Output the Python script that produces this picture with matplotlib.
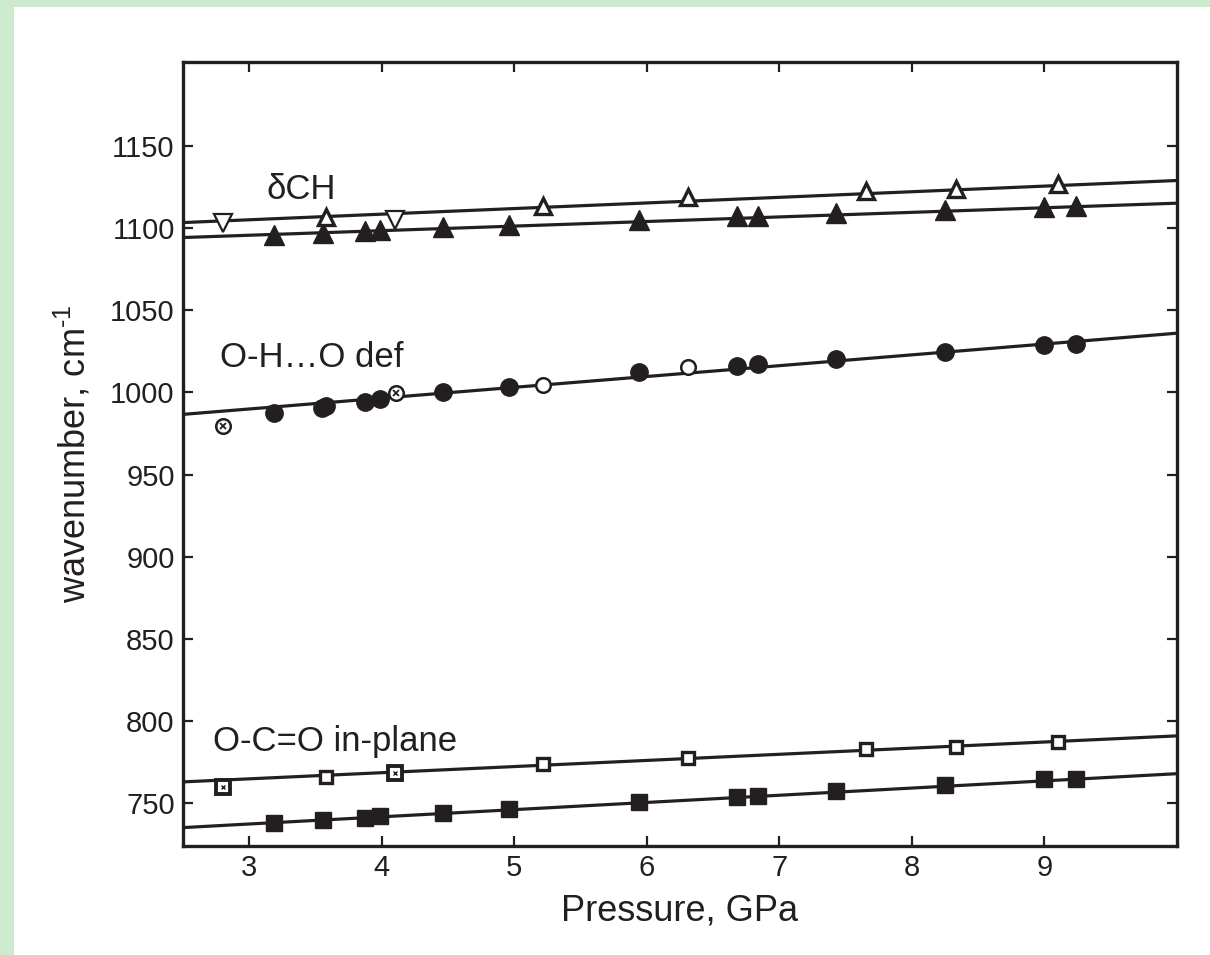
import matplotlib
matplotlib.use("Agg")
import matplotlib.pyplot as plt
from matplotlib.patches import Rectangle

INK = "#231f20"

# delta CH band
ch_open_up_x = [3.58, 5.22, 6.31, 7.65, 8.33, 9.10]
ch_open_up_y = [1106.6, 1113.6, 1118.8, 1122.8, 1123.6, 1126.7]
ch_open_down_x = [2.80, 4.10]
ch_open_down_y = [1103.0, 1105.0]
ch_filled_x = [3.19, 3.56, 3.87, 3.99, 4.46, 4.96, 5.94, 6.68, 6.84, 7.43, 8.25, 9.00, 9.24]
ch_filled_y = [1095.8, 1096.8, 1098.4, 1098.8, 1100.5, 1101.9, 1105.0, 1107.4, 1107.4,
               1109.4, 1111.0, 1113.0, 1113.5]

# O-H...O deformation
oh_filled_x = [3.19, 3.55, 3.58, 3.87, 3.99, 4.46, 4.96, 5.94, 6.68, 6.84, 7.43, 8.25, 9.00, 9.24]
oh_filled_y = [987.2, 990.6, 991.6, 994.3, 995.7, 1000.0, 1003.4, 1012.5, 1016.0, 1017.0,
               1020.0, 1024.5, 1029.0, 1029.5]
oh_open_x = [5.22, 6.31]
oh_open_y = [1004.4, 1015.5]
oh_cross_x = [2.80, 4.11]
oh_cross_y = [979.7, 999.8]

# O-C=O in-plane
oco_filled_x = [3.19, 3.56, 3.87, 3.99, 4.46, 4.96, 5.94, 6.68, 6.84, 7.43, 8.25, 9.00, 9.24]
oco_filled_y = [738.0, 739.6, 741.0, 742.0, 744.0, 746.3, 750.8, 754.0, 754.3, 757.5,
                761.0, 764.5, 765.0]
oco_open_x = [3.58, 5.22, 6.31, 7.65, 8.33, 9.10]
oco_open_y = [766.2, 773.6, 777.5, 783.0, 784.5, 787.0]
oco_cross_x = [2.80, 4.10]
oco_cross_y = [760.2, 768.2]

# linear fits, evaluated at the ends of the pressure range
fit_x = [2.5, 10.0]
fit_ch_open = [1103.3, 1128.9]
fit_ch_filled = [1094.2, 1115.1]
fit_oh = [986.6, 1036.0]
fit_oco_open = [763.0, 791.0]
fit_oco_filled = [735.2, 768.0]

x_ticks = [3, 4, 5, 6, 7, 8, 9]
y_ticks = [750, 800, 850, 900, 950, 1000, 1050, 1100, 1150]

plt.rcParams["font.family"] = ["Liberation Sans", "DejaVu Sans"]
plt.rcParams["mathtext.fontset"] = "custom"
plt.rcParams["mathtext.rm"] = "Liberation Sans"
plt.rcParams["mathtext.it"] = "Liberation Sans"

fig = plt.figure(figsize=(12.10, 9.55), dpi=100, facecolor="white")
# green frame strips on top and left
fig.patches.append(Rectangle((0, 1 - 7 / 955), 1, 7 / 955, transform=fig.transFigure,
                             facecolor="#cdeace", edgecolor="none", zorder=0))
fig.patches.append(Rectangle((0, 0), 14 / 1210, 1, transform=fig.transFigure,
                             facecolor="#cdeace", edgecolor="none", zorder=0))

ax = fig.add_axes([183 / 1210, 1 - 846 / 955, (1177 - 183) / 1210, (846 - 62) / 955])

for fy in (fit_ch_open, fit_ch_filled, fit_oh, fit_oco_open, fit_oco_filled):
    ax.plot(fit_x, fy, color=INK, lw=2.3, zorder=2, solid_capstyle="butt")

# triangles
ax.plot(ch_filled_x, ch_filled_y, "^", ms=14, color=INK, mec=INK, zorder=3, ls="none")
ax.plot(ch_open_up_x, ch_open_up_y, "^", ms=12, mfc="white", mec=INK, mew=2.4, zorder=3, ls="none")
ax.plot(ch_open_down_x, ch_open_down_y, "v", ms=12.5, mfc="white", mec=INK, mew=1.6, zorder=3, ls="none")

# circles
ax.plot(oh_filled_x, oh_filled_y, "o", ms=12.5, color=INK, mec=INK, zorder=3, ls="none")
ax.plot(oh_open_x, oh_open_y, "o", ms=10.5, mfc="white", mec=INK, mew=1.8, zorder=3, ls="none")
ax.plot(oh_cross_x, oh_cross_y, "o", ms=10.5, mfc="white", mec=INK, mew=1.8, zorder=3, ls="none")
ax.plot(oh_cross_x, oh_cross_y, "x", ms=4.5, mec=INK, mew=1.3, zorder=4, ls="none")

# squares
ax.plot(oco_filled_x, oco_filled_y, "s", ms=11, color=INK, mec=INK, zorder=3, ls="none")
ax.plot(oco_open_x, oco_open_y, "s", ms=9, mfc="white", mec=INK, mew=2.4, zorder=3, ls="none")
ax.plot(oco_cross_x, oco_cross_y, "s", ms=9.5, mfc="white", mec=INK, mew=2.8, zorder=3, ls="none")
ax.plot(oco_cross_x, oco_cross_y, "x", ms=3, mec=INK, mew=1.0, zorder=4, ls="none")

ax.text(3.13, 1117.5, "δCH", fontsize=25, color=INK, ha="left", va="baseline")
ax.text(2.78, 1015.6, "O-H…O def", fontsize=25, color=INK, ha="left", va="baseline")
ax.text(2.73, 782.0, "O-C=O in-plane", fontsize=25, color=INK, ha="left", va="baseline")

ax.set_xlim(2.5, 10.0)
ax.set_ylim(724, 1201)
ax.set_xticks(x_ticks)
ax.set_yticks(y_ticks)
ax.tick_params(direction="in", top=True, right=True, length=7, width=1.6,
               color=INK, labelcolor=INK, labelsize=21, pad=6)
for sp in ax.spines.values():
    sp.set_linewidth(2.4)
    sp.set_color(INK)

ax.set_xlabel("Pressure, GPa", fontsize=26, color=INK, labelpad=8)
ax.set_ylabel(r"wavenumber, cm$^{\text{-1}}$", fontsize=26, color=INK, labelpad=12)

fig.savefig("out.png", dpi=100, facecolor=fig.get_facecolor())
